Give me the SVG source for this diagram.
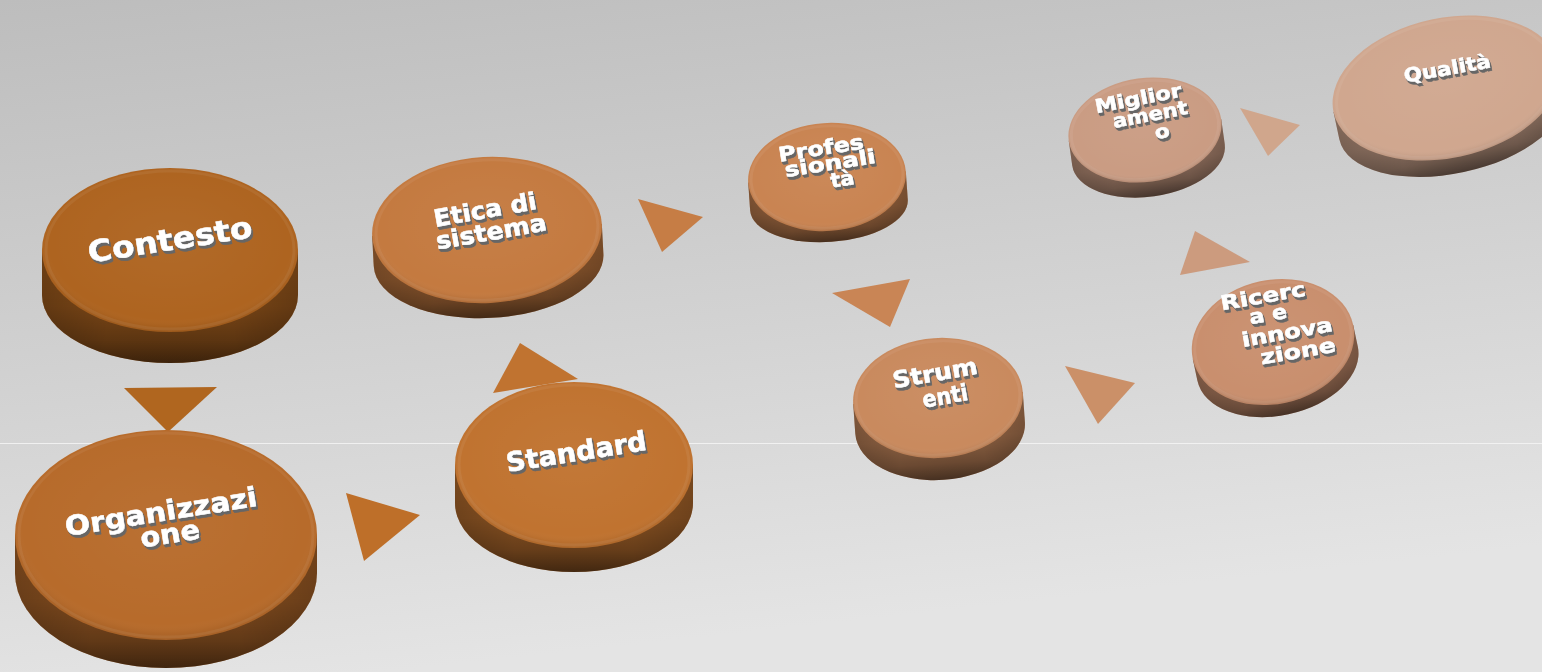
<svg xmlns="http://www.w3.org/2000/svg" width="1542" height="672" viewBox="0 0 1542 672">
  <style>
    .lbl { font-family: "DejaVu Sans", Verdana, sans-serif; font-weight: bold; fill: #ffffff; stroke: #ffffff; stroke-width: 0.5; text-anchor: middle; }
    .side-shade { fill: url(#sideShade); }
    .side-edge { fill: url(#sideEdge); }
    .face-shade { fill: url(#faceShade); }
    .rim { fill: none; stroke: #ffffff; stroke-opacity: 0.06; stroke-width: 3; }
  </style>
  <defs>
    <linearGradient id="bg" x1="0" y1="0" x2="0.25" y2="1">
      <stop offset="0" stop-color="#bdbdbd"/>
      <stop offset="0.55" stop-color="#d2d2d2"/>
      <stop offset="1" stop-color="#e4e4e4"/>
    </linearGradient>
    <!-- darkening of the disc wall, strongest at the bottom -->
    <linearGradient id="sideShade" x1="0" y1="0" x2="0" y2="1">
      <stop offset="0" stop-color="#000" stop-opacity="0.18"/>
      <stop offset="0.5" stop-color="#000" stop-opacity="0.28"/>
      <stop offset="0.8" stop-color="#000" stop-opacity="0.45"/>
      <stop offset="1" stop-color="#000" stop-opacity="0.64"/>
    </linearGradient>
    <linearGradient id="sideEdge" x1="0" y1="0" x2="1" y2="0">
      <stop offset="0" stop-color="#000" stop-opacity="0.22"/>
      <stop offset="0.25" stop-color="#000" stop-opacity="0.04"/>
      <stop offset="0.75" stop-color="#000" stop-opacity="0.04"/>
      <stop offset="1" stop-color="#000" stop-opacity="0.22"/>
    </linearGradient>
    <radialGradient id="faceShade" cx="0.5" cy="0.45" r="0.55">
      <stop offset="0" stop-color="#fff" stop-opacity="0.04"/>
      <stop offset="0.86" stop-color="#fff" stop-opacity="0"/>
      <stop offset="0.94" stop-color="#000" stop-opacity="0.04"/>
      <stop offset="1" stop-color="#000" stop-opacity="0.10"/>
    </radialGradient>
    <!-- raised lettering: grey extrusion under white text -->
    <filter id="emboss" x="-10%" y="-30%" width="125%" height="170%">
      <feOffset in="SourceAlpha" dx="0.7" dy="1.2" result="o1"/>
      <feOffset in="SourceAlpha" dx="1.4" dy="2.4" result="o2"/>
      <feOffset in="SourceAlpha" dx="2" dy="3.4" result="o3"/>
      <feMerge result="ext"><feMergeNode in="o1"/><feMergeNode in="o2"/><feMergeNode in="o3"/></feMerge>
      <feFlood flood-color="#666666"/>
      <feComposite in2="ext" operator="in" result="shade"/>
      <feMerge><feMergeNode in="shade"/><feMergeNode in="SourceGraphic"/></feMerge>
    </filter>
  </defs>

  <rect width="1542" height="672" fill="url(#bg)"/>
  <line x1="0" y1="443.5" x2="1542" y2="443.5" stroke="#f4f4f4" stroke-opacity="0.85" stroke-width="1"/>

  <!-- connectors: flat triangular arrows -->
  <g id="connectors">
    <polygon points="124,388 217,387 168,432" fill="#B0661F"/>
    <polygon points="346,493 420,515 364,561" fill="#BE6F29"/>
    <polygon points="493,393 520,343 578,379" fill="#C07330"/>
    <polygon points="638,199 703,217 662,252" fill="#C67D45"/>
    <polygon points="832,293 910,279 890,327" fill="#C98555"/>
    <polygon points="1065,366 1135,383 1098,424" fill="#CB9068"/>
    <polygon points="1180,275 1195,231 1250,262" fill="#CC9B7E"/>
    <polygon points="1240,108 1300,125 1268,156" fill="#D0A68C"/>
  </g>

  <!-- Contesto -->
  <g id="node-contesto">
    <g transform="translate(170,250)">
      <path d="M-128,0 L-128,45 A128,68 0 0 0 128,45 L128,0 Z" fill="#AE6420"/>
      <path class="side-shade" d="M-128,0 L-128,45 A128,68 0 0 0 128,45 L128,0 Z"/>
      <path class="side-edge" d="M-128,0 L-128,45 A128,68 0 0 0 128,45 L128,0 Z"/>
      <ellipse rx="128" ry="82" fill="#AE6420"/>
      <ellipse class="face-shade" rx="128" ry="82"/>
      <ellipse class="rim" rx="124" ry="79"/>
    </g>
    <g filter="url(#emboss)">
      <text class="lbl" font-size="30" x="170" y="250" textLength="166" lengthAdjust="spacingAndGlyphs" transform="rotate(-9 170 240)">Contesto</text>
    </g>
  </g>

  <!-- Organizzazione -->
  <g id="node-organizzazione">
    <g transform="translate(166,535)">
      <path d="M-151,0 L-151,38 A151,95 0 0 0 151,38 L151,0 Z" fill="#B76B2B"/>
      <path class="side-shade" d="M-151,0 L-151,38 A151,95 0 0 0 151,38 L151,0 Z"/>
      <path class="side-edge" d="M-151,0 L-151,38 A151,95 0 0 0 151,38 L151,0 Z"/>
      <ellipse rx="151" ry="105" fill="#B76B2B"/>
      <ellipse class="face-shade" rx="151" ry="105"/>
      <ellipse class="rim" rx="147" ry="102"/>
    </g>
    <g filter="url(#emboss)">
      <text class="lbl" font-size="27" x="161" y="521" textLength="194" lengthAdjust="spacingAndGlyphs" transform="rotate(-9 161 512)">Organizzazi</text>
      <text class="lbl" font-size="27" x="170" y="543" textLength="60" lengthAdjust="spacingAndGlyphs" transform="rotate(-9 170 534)">one</text>
    </g>
  </g>

  <!-- Standard -->
  <g id="node-standard">
    <g transform="translate(574,465)">
      <path d="M-119,0 L-119,38 A119,69 0 0 0 119,38 L119,0 Z" fill="#C07330"/>
      <path class="side-shade" d="M-119,0 L-119,38 A119,69 0 0 0 119,38 L119,0 Z"/>
      <path class="side-edge" d="M-119,0 L-119,38 A119,69 0 0 0 119,38 L119,0 Z"/>
      <ellipse rx="119" ry="83" fill="#C07330"/>
      <ellipse class="face-shade" rx="119" ry="83"/>
      <ellipse class="rim" rx="115" ry="80"/>
    </g>
    <g filter="url(#emboss)">
      <text class="lbl" font-size="27" x="576" y="461" textLength="142" lengthAdjust="spacingAndGlyphs" transform="rotate(-9 576 451)">Standard</text>
    </g>
  </g>

  <!-- Etica di sistema -->
  <g id="node-etica">
    <g transform="translate(487,230) rotate(-3)">
      <path d="M-115,0 L-115,30 A115,58 0 0 0 115,30 L115,0 Z" fill="#C47A40"/>
      <path class="side-shade" d="M-115,0 L-115,30 A115,58 0 0 0 115,30 L115,0 Z"/>
      <path class="side-edge" d="M-115,0 L-115,30 A115,58 0 0 0 115,30 L115,0 Z"/>
      <ellipse rx="115" ry="73" fill="#C47A40"/>
      <ellipse class="face-shade" rx="115" ry="73"/>
      <ellipse class="rim" rx="111" ry="70"/>
    </g>
    <g filter="url(#emboss)">
      <text class="lbl" font-size="24" x="485" y="218" textLength="104" lengthAdjust="spacingAndGlyphs" transform="rotate(-10 485 210)">Etica di</text>
      <text class="lbl" font-size="24" x="491" y="240" textLength="112" lengthAdjust="spacingAndGlyphs" transform="rotate(-10 491 231)">sistema</text>
    </g>
  </g>

  <!-- Professionalità -->
  <g id="node-professionalita">
    <g transform="translate(827,177) rotate(-4)">
      <path d="M-79,0 L-79,28 A79,37 0 0 0 79,28 L79,0 Z" fill="#C98452"/>
      <path class="side-shade" d="M-79,0 L-79,28 A79,37 0 0 0 79,28 L79,0 Z"/>
      <path class="side-edge" d="M-79,0 L-79,28 A79,37 0 0 0 79,28 L79,0 Z"/>
      <ellipse rx="79" ry="54" fill="#C98452"/>
      <ellipse class="face-shade" rx="79" ry="54"/>
      <ellipse class="rim" rx="76" ry="51"/>
    </g>
    <g filter="url(#emboss)">
      <text class="lbl" font-size="20" x="821" y="155" textLength="86" lengthAdjust="spacingAndGlyphs" transform="rotate(-9 821 148)">Profes</text>
      <text class="lbl" font-size="20" x="830" y="170" textLength="92" lengthAdjust="spacingAndGlyphs" transform="rotate(-9 830 163)">sionali</text>
      <text class="lbl" font-size="20" x="842" y="186" textLength="24" lengthAdjust="spacingAndGlyphs" transform="rotate(-9 842 178)">tà</text>
    </g>
  </g>

  <!-- Strumenti -->
  <g id="node-strumenti">
    <g transform="translate(938,398) rotate(-4)">
      <path d="M-85,0 L-85,30 A85,52 0 0 0 85,30 L85,0 Z" fill="#C98A5E"/>
      <path class="side-shade" d="M-85,0 L-85,30 A85,52 0 0 0 85,30 L85,0 Z"/>
      <path class="side-edge" d="M-85,0 L-85,30 A85,52 0 0 0 85,30 L85,0 Z"/>
      <ellipse rx="85" ry="60" fill="#C98A5E"/>
      <ellipse class="face-shade" rx="85" ry="60"/>
      <ellipse class="rim" rx="82" ry="57"/>
    </g>
    <g filter="url(#emboss)">
      <text class="lbl" font-size="23" x="935" y="381" textLength="86" lengthAdjust="spacingAndGlyphs" transform="rotate(-10 935 373)">Strum</text>
      <text class="lbl" font-size="23" x="945" y="404" textLength="46" lengthAdjust="spacingAndGlyphs" transform="rotate(-10 945 396)">enti</text>
    </g>
  </g>

  <!-- Ricerca e innovazione -->
  <g id="node-ricerca">
    <g transform="translate(1273,342) rotate(-12)">
      <path d="M-82,0 L-82,22 A82,52 0 0 0 82,22 L82,0 Z" fill="#C98F6E"/>
      <path class="side-shade" d="M-82,0 L-82,22 A82,52 0 0 0 82,22 L82,0 Z"/>
      <path class="side-edge" d="M-82,0 L-82,22 A82,52 0 0 0 82,22 L82,0 Z"/>
      <ellipse rx="82" ry="62" fill="#C98F6E"/>
      <ellipse class="face-shade" rx="82" ry="62"/>
      <ellipse class="rim" rx="79" ry="59"/>
    </g>
    <g filter="url(#emboss)">
      <text class="lbl" font-size="20" x="1263" y="303" textLength="86" lengthAdjust="spacingAndGlyphs" transform="rotate(-10 1263 296)">Ricerc</text>
      <text class="lbl" font-size="20" x="1268" y="321" textLength="38" lengthAdjust="spacingAndGlyphs" transform="rotate(-10 1268 314)">a e</text>
      <text class="lbl" font-size="20" x="1287" y="339" textLength="92" lengthAdjust="spacingAndGlyphs" transform="rotate(-10 1287 332)">innova</text>
      <text class="lbl" font-size="20" x="1298" y="358" textLength="76" lengthAdjust="spacingAndGlyphs" transform="rotate(-10 1298 351)">zione</text>
    </g>
  </g>

  <!-- Miglioramento -->
  <g id="node-miglioramento">
    <g transform="translate(1145,130) rotate(-8)">
      <path d="M-77,0 L-77,25 A77,42 0 0 0 77,25 L77,0 Z" fill="#CA9C83"/>
      <path class="side-shade" d="M-77,0 L-77,25 A77,42 0 0 0 77,25 L77,0 Z"/>
      <path class="side-edge" d="M-77,0 L-77,25 A77,42 0 0 0 77,25 L77,0 Z"/>
      <ellipse rx="77" ry="52" fill="#CA9C83"/>
      <ellipse class="face-shade" rx="77" ry="52"/>
      <ellipse class="rim" rx="74" ry="49"/>
    </g>
    <g filter="url(#emboss)">
      <text class="lbl" font-size="19" x="1138" y="105" textLength="88" lengthAdjust="spacingAndGlyphs" transform="rotate(-11 1138 98)">Miglior</text>
      <text class="lbl" font-size="19" x="1150" y="121" textLength="76" lengthAdjust="spacingAndGlyphs" transform="rotate(-11 1150 114)">ament</text>
      <text class="lbl" font-size="19" x="1162" y="138" textLength="15" lengthAdjust="spacingAndGlyphs" transform="rotate(-11 1162 131)">o</text>
    </g>
  </g>

  <!-- Qualità -->
  <g id="node-qualita">
    <g transform="translate(1446,88) rotate(-12)">
      <path d="M-115,0 L-115,28 A115,58 0 0 0 115,28 L115,0 Z" fill="#D0A78F"/>
      <path class="side-shade" d="M-115,0 L-115,28 A115,58 0 0 0 115,28 L115,0 Z"/>
      <path class="side-edge" d="M-115,0 L-115,28 A115,58 0 0 0 115,28 L115,0 Z"/>
      <ellipse rx="115" ry="70" fill="#D0A78F"/>
      <ellipse class="face-shade" rx="115" ry="70"/>
      <ellipse class="rim" rx="111" ry="67"/>
    </g>
    <g filter="url(#emboss)">
      <text class="lbl" font-size="19" x="1447" y="75" textLength="88" lengthAdjust="spacingAndGlyphs" transform="rotate(-10 1447 68)">Qualità</text>
    </g>
  </g>
</svg>
